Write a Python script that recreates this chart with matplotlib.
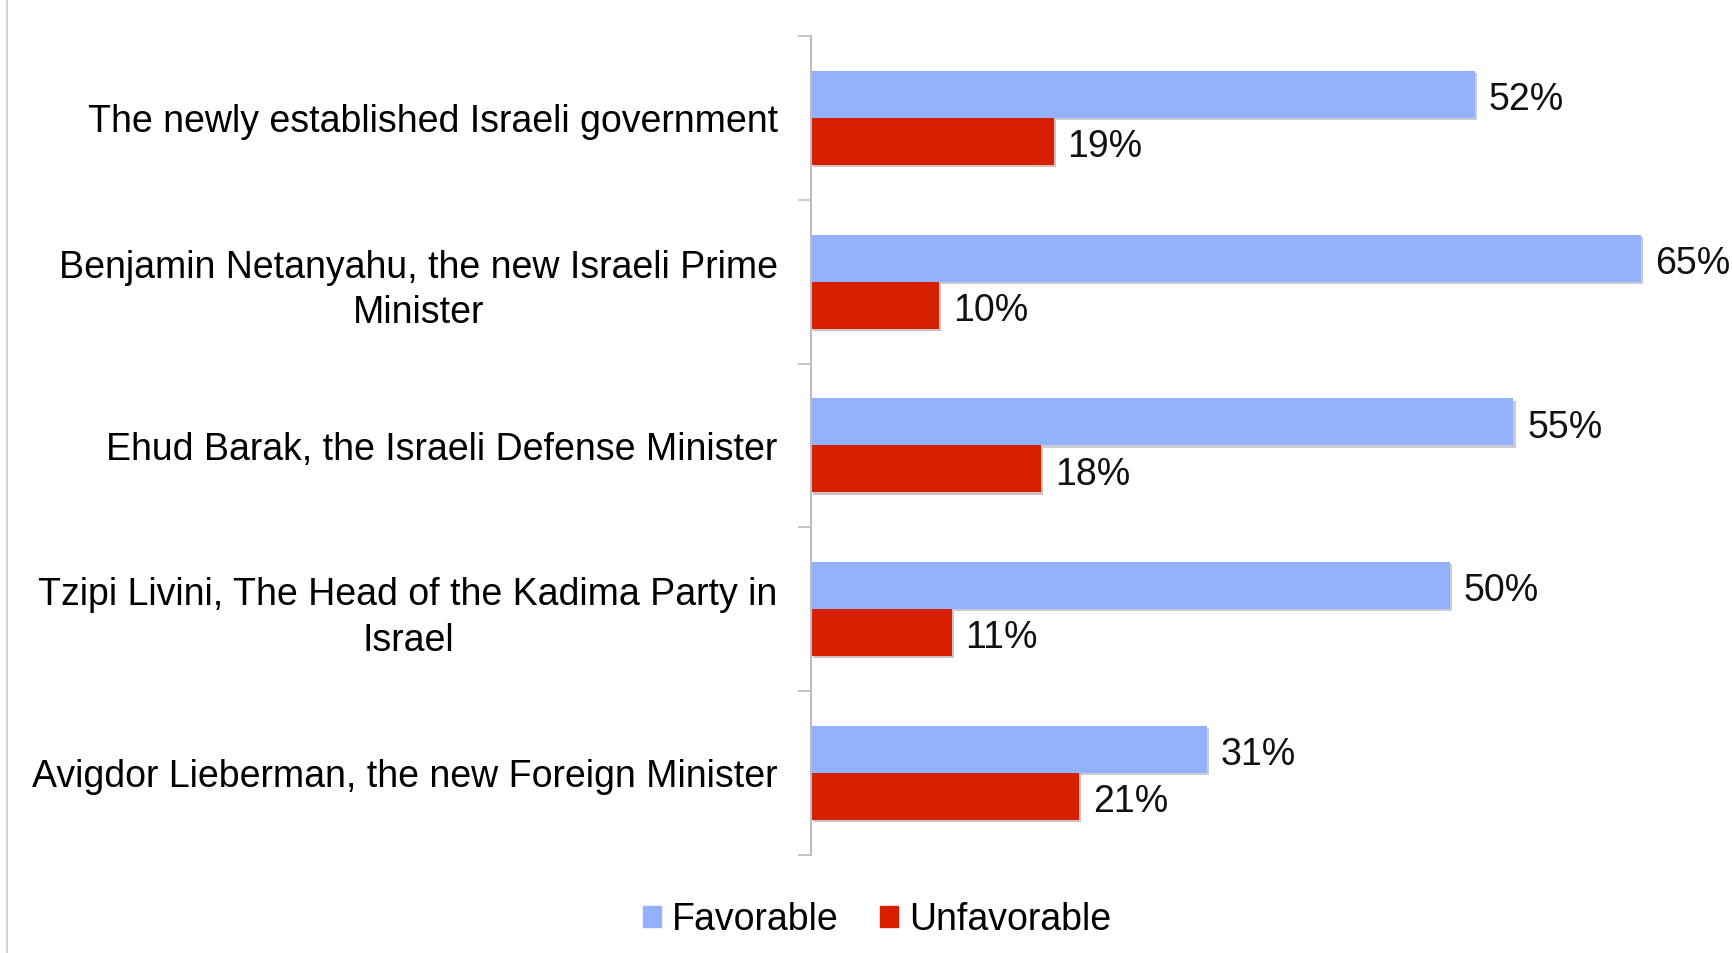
import matplotlib.pyplot as plt
import matplotlib.patheffects as pe
from matplotlib.lines import Line2D
from matplotlib.patches import Patch
import numpy as np

plt.rcParams['font.family'] = ['Liberation Sans', 'DejaVu Sans']

categories = [
    'The newly established Israeli government',
    'Benjamin Netanyahu, the new Israeli Prime\nMinister',
    'Ehud Barak, the Israeli Defense Minister',
    'Tzipi Livini, The Head of the Kadima Party in\nIsrael',
    'Avigdor Lieberman, the new Foreign Minister',
]
favorable = [52, 65, 55, 50, 31]
unfavorable = [19, 10, 18, 11, 21]
series_names = ['Favorable', 'Unfavorable']

blue = '#93B2FD'
red = '#D62000'
axis_gray = '#BDBDBD'
fs = 27

W, H = 1732, 953
fig = plt.figure(figsize=(W / 100 + 0.001, H / 100 + 0.001), dpi=100)
# axes placed in pixel terms of the reference
ax = fig.add_axes([811 / W, (H - 855) / H, (1710 - 811) / W, (855 - 36) / H])

y = np.arange(len(categories))
h = 0.287
shadow = [pe.SimplePatchShadow(offset=(1.5, -1.5), alpha=0.25), pe.Normal()]

b1 = ax.barh(y - h / 2, favorable, height=h, color=blue, path_effects=shadow)
b2 = ax.barh(y + h / 2, unfavorable, height=h, color=red, path_effects=shadow)

for bars, vals in [(b1, favorable), (b2, unfavorable)]:
    for bar, v in zip(bars, vals):
        ax.annotate(f'{v}%', (bar.get_width(), bar.get_y() + bar.get_height() / 2),
                    xytext=(10, -4), textcoords='offset points',
                    ha='left', va='center', fontsize=fs, color='#111111')

ax.set_xlim(0, 70.4)
ax.set_ylim(len(categories) - 0.5, -0.5)

for s in ['top', 'right', 'bottom']:
    ax.spines[s].set_visible(False)
ax.spines['left'].set_color(axis_gray)
ax.spines['left'].set_linewidth(1.5)
ax.set_xticks([])

# tick marks between groups, labels on group centres
ax.set_yticks(np.arange(len(categories) + 1) - 0.5)
ax.set_yticklabels([])
ax.tick_params(axis='y', which='major', length=9.5, width=1.2, color=axis_gray)
ax.set_yticks(y, minor=True)
ax.set_yticklabels(categories, minor=True, fontsize=fs, multialignment='center',
                   linespacing=1.33)
ax.tick_params(axis='y', which='minor', length=0, pad=24)

handles = [Patch(color=blue), Patch(color=red)]
fig.legend(handles, series_names, loc='center', bbox_to_anchor=(877 / W, (H - 920) / H),
           ncol=2, frameon=False, fontsize=fs, handlelength=0.47, handleheight=0.47,
           handletextpad=0.3, columnspacing=1.1)

# thin gray border line at the far left
fig.add_artist(Line2D([7 / W, 7 / W], [0, 1], transform=fig.transFigure,
                      color='#D0D0D0', linewidth=1.5))

fig.savefig('out.png', dpi=100)
